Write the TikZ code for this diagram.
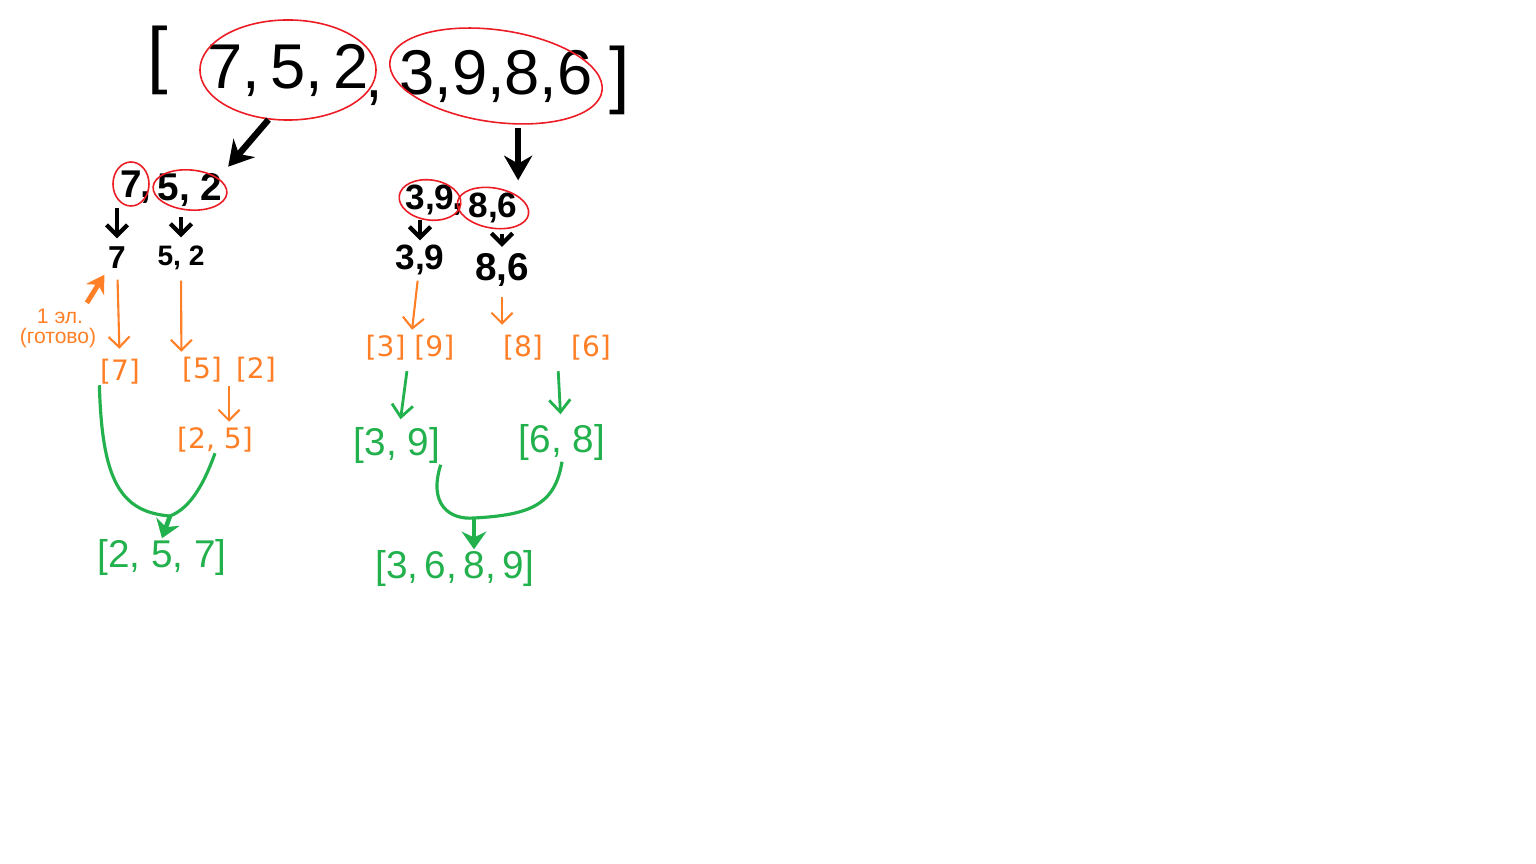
\documentclass[tikz,border=0pt]{standalone}
\usepackage{fontspec}
\setmainfont{Liberation Sans}
\newfontfamily\penfont{DejaVu Sans}
\usetikzlibrary{arrows.meta}
\definecolor{penred}{RGB}{237,28,36}
\definecolor{penorange}{RGB}{255,127,39}
\definecolor{pengreen}{RGB}{34,177,76}

\begin{document}
\begin{tikzpicture}[x=0.01cm,y=-0.01cm,
    every node/.style={inner sep=0pt},
    loop/.style={draw=penred, line width=0.45pt},
    bigtxt/.style={font=\fontsize{18}{20}\selectfont},
    brtxt/.style={font=\fontsize{21}{22}\selectfont},
    midtxt/.style={font=\bfseries\fontsize{11}{12}\selectfont},
    smalltxt/.style={font=\bfseries\fontsize{#1}{#1}\selectfont},
    splittxt/.style={text=penorange, font=\penfont\fontsize{8}{9}\selectfont},
    mergetxt/.style={text=pengreen, font=\fontsize{11}{12}\selectfont},
    note/.style={text=penorange, font=\fontsize{6}{7}\selectfont},
    bigarrow/.style={line width=1.8pt, -{Stealth[length=7pt,width=8pt]}},
    midarrow/.style={line width=1.2pt, -{Straight Barb[length=3pt,width=6pt]}},
    thinarrow/.style={draw=penorange, line width=0.6pt, -{Straight Barb[length=3pt,width=6pt]}},
    greenarrow/.style={draw=pengreen, line width=0.8pt, -{Straight Barb[length=3.5pt,width=6pt]}},
    greenline/.style={draw=pengreen, line width=0.9pt},
    greenbig/.style={draw=pengreen, line width=1.3pt, -{Stealth[length=5pt,width=7pt]}}]
  \useasboundingbox (0,0) rectangle (1536,864);

  % whole array
  \node[brtxt] (lb) at (158,60) {[};
  \node[bigtxt] (t1) at (288,70) {7,\,5,\,2};
  \node[bigtxt] (c1) at (374,98) {,};
  \node[bigtxt] (t2) at (496,76) {3,9,8,6};
  \node[brtxt] (rb) at (620,80) {]};
  \draw[loop] (t1) ellipse [x radius=0.88cm, y radius=0.5cm];
  \draw[loop, rotate around={-8:(t2)}] (t2) ellipse [x radius=1.07cm, y radius=0.46cm];

  % first split
  \node[midtxt] (m1) at (131,184) {7};
  \node[midtxt] (c2) at (146,198) {,};
  \node[midtxt] (m2) at (190,190) {5, 2};
  \draw[loop] (m1) ellipse [x radius=0.18cm, y radius=0.22cm];
  \draw[loop, rotate around={-5:(m2)}] (m2) ellipse [x radius=0.37cm, y radius=0.2cm];
  \node[midtxt, font=\bfseries\fontsize{10}{11}\selectfont] (m3) at (430,200) {3,9};
  \node[midtxt] (c3) at (458,210) {,};
  \node[midtxt, font=\bfseries\fontsize{10}{11}\selectfont] (m4) at (493,208) {8,6};
  \draw[loop, rotate around={-8:(m3)}] (m3) ellipse [x radius=0.31cm, y radius=0.2cm];
  \draw[loop, rotate around={-10:(m4)}] (m4) ellipse [x radius=0.36cm, y radius=0.2cm];

  \draw[bigarrow, shorten <=0.3cm, shorten >=0.08cm] (t1.south) -- (m2.north east);
  \draw[bigarrow, shorten <=0.25cm, shorten >=0.12cm] (t2.south -| m4.east) -- (m4.north east);

  % second split
  \node[smalltxt=9] (l1) at (117,258) {7};
  \node[smalltxt=8] (l2) at (181,258) {5, 2};
  \node[smalltxt=10] (l3) at (420,260) {3,9};
  \node[smalltxt=11] (l4) at (502,270) {8,6};
  \draw[midarrow, shorten <=0.1cm, shorten >=0.08cm] (m1.south -| l1) -- (l1.north);
  \draw[midarrow, shorten <=0.1cm, shorten >=0.08cm] (m2.south -| l2) -- (l2.north);
  \draw[midarrow, shorten <=0.04cm, shorten >=0.04cm] (m3.south -| l3) -- (l3.north);
  \draw[midarrow, shorten <=0.1cm, shorten >=0.06cm] (m4.south -| l4) -- (l4.north);

  % single elements
  \node[splittxt] (o1) at (120,372) {[7]};
  \node[splittxt] (o2) at (229,370) {[5]\enspace[2]};
  \node[splittxt] (o3) at (215,440) {[2, 5]};
  \node[splittxt] (o4) at (410,348) {[3] [9]};
  \node[splittxt] (o5) at (557,348) {[8]\quad[6]};
  \draw[thinarrow, shorten <=0.1cm, shorten >=0.1cm] (l1) -- (o1);
  \draw[thinarrow, shorten <=0.1cm, shorten >=0.05cm] (l2.south) -- (o2.north west);
  \draw[thinarrow, shorten <=0.03cm, shorten >=0.05cm] (o2.south) -- (o2.south |- o3.north);
  \draw[thinarrow, shorten <=0.05cm, shorten >=0.05cm] (l3) -- (o4);
  \draw[thinarrow, shorten <=0.1cm, shorten >=0.1cm] (l4.south) -- (l4.south |- o5.north);

  \node[note] (n1) at (60,316) {1 эл.};
  \node[note] (n2) at (58,338) {(готово)};
  \draw[draw=penorange, line width=1.4pt, -{Stealth[length=5pt,width=6pt]},
    shorten <=0.06cm, shorten >=0.06cm] (n1.north east) -- (l1.south west);

  % merging
  \node[mergetxt] (g1) at (397,446) {[3, 9]};
  \node[mergetxt] (g2) at (562,443) {[6, 8]};
  \node[mergetxt] (g4) at (162,557) {[2, 5, 7]};
  \node[mergetxt] (g3) at (455,568) {[3,\,6,\,8,\,9]};
  \draw[greenarrow, shorten <=0.1cm, shorten >=0.08cm] (o4) -- (g1);
  \draw[greenarrow, shorten <=0.1cm, shorten >=0.1cm] (o5) -- (g2);

  \coordinate (jl) at (170,516);
  \draw[greenline] (o1.south west) .. controls (102,480) and (120,512) .. (jl);
  \draw[greenline] (o3.south) .. controls (200,495) and (185,510) .. (jl);
  \draw[greenbig] (jl) -- (g4.north);

  \coordinate (jr) at (474,518);
  \draw[greenline] (g1.south east) .. controls (428,505) and (450,520) .. (jr);
  \draw[greenline] (g2.south) .. controls (555,505) and (530,515) .. (jr);
  \draw[greenbig] (jr) -- (jr |- g3.north);
\end{tikzpicture}
\end{document}
